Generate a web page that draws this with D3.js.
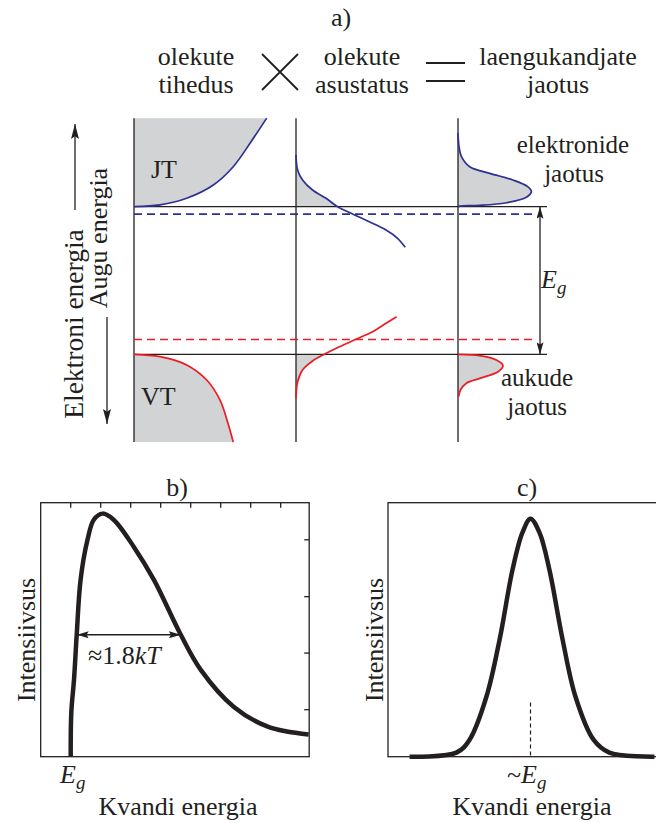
<!DOCTYPE html>
<html lang="et">
<head>
<meta charset="UTF-8">
<title>Laengukandjate jaotus ja luminestsentsi spekter</title>
<script src="https://d3js.org/d3.v7.min.js"></script>
<style>
  body { margin: 0; background: #fff; }
  svg { display: block; }
  text { font-family: "Liberation Serif", "DejaVu Serif", serif; }
  .ax { stroke: #231f20; stroke-width: 1.3px; fill: none; }
  .fill { fill: #d1d3d4; stroke: none; }
  .blue { stroke: #2e3192; fill: none; stroke-width: 1.7px; }
  .red { stroke: #ed1c24; fill: none; stroke-width: 1.7px; }
  .dash { stroke-dasharray: 8 5; }
  .spec { stroke: #231f20; fill: none; stroke-width: 4.5px; }
  .lbl { font-size: 26px; fill: #231f20; }
  .side { font-size: 25px; }
  .math { font-style: italic; }
</style>
</head>
<body>
<script>
// ---------- a) bands, energy units: valence edge = 0, conduction edge = 100
const bandEdges = [0, 100];
const fermiLevels = [95, 10];          // electrons (blue), holes (red)
const energyRange = [-59.5, 160];
const columns = ["tihedus", "asustatus", "jaotus"];

// [value, energy]
const dosCB   = [[0,100],[22.6,101.2],[45.8,105.7],[69,114.7],[86.3,127.1],[100.9,143],[115.4,160]];
const dosVB   = [[0,0],[22.6,-1.6],[45.8,-7.2],[63.2,-17.4],[74.8,-31],[81.7,-46.7],[86.3,-59.5]];
const occN    = [[0,135],[1.4,124.9],[5.7,118.1],[14.4,111.3],[26.1,105.7],[36.2,100],[49.2,95.1],[63.7,89.8],[78.3,84.2],[88.3,78.6],[95,72.5]];
const occP    = [[0,-29.8],[1.4,-18.6],[5.7,-10.6],[14.4,-4.5],[24.6,0],[37.7,5.1],[52.2,10.2],[66.6,15.3],[78.3,21],[87.5,25.5]];
const distN   = [[0,149.9],[0.9,140.7],[3,133.9],[10.2,127.1],[27.6,122.6],[47.6,118.1],[60.6,113.6],[63.8,110.2],[59.5,106.4],[42.1,102.7],[18.9,100.9],[1.5,100.4],[0,100]];
const distP   = [[0,0],[18.9,-0.9],[33.4,-3.9],[39.1,-7.7],[34.8,-11.8],[18.9,-16.3],[7.3,-19.6],[2.1,-24.2],[0.6,-28.7]];

// ---------- b) and c) spectra, [photon energy, intensity]
const specB = [[0,0],[0.02,0.173],[0.11,0.303],[0.2,0.48],[0.33,0.697],[0.56,0.854],[0.77,0.933],[1.06,0.957],[1.43,0.933],[2.1,0.827],[2.77,0.697],[3.67,0.48],[4.33,0.343],[5.43,0.197],[6.57,0.118],[7.93,0.087]];
const specC = [[-4.03,0],[-2.47,0.016],[-2.03,0.067],[-1.47,0.236],[-1.03,0.461],[-0.6,0.736],[-0.27,0.882],[0,0.937],[0.3,0.882],[0.63,0.736],[1.07,0.461],[1.5,0.236],[2.1,0.067],[2.63,0.016],[4.13,0]];
const ticksBx = [0, 1, 2, 3, 4, 5, 6, 7];
const ticksBy = [0.185, 0.408, 0.63, 0.854];
const widthB = [0.2, 3.67, 0.48];      // FWHM arrow: from, to, level
const markC = [0, 0.213];

const W = 656, H = 823;
const svg = d3.select("body").append("svg").attr("width", W).attr("height", H);

const defs = svg.append("defs");
function arrowHead(id, len, wid) {
  defs.append("marker").attr("id", id).attr("viewBox", `0 0 ${len} ${wid}`)
    .attr("refX", len).attr("refY", wid / 2).attr("markerWidth", len).attr("markerHeight", wid)
    .attr("markerUnits", "userSpaceOnUse").attr("orient", "auto-start-reverse")
    .append("path").attr("d", `M0,0 L${len},${wid / 2} L0,${wid} L${len * 0.18},${wid / 2} Z`)
    .attr("fill", "#231f20");
}
arrowHead("head", 12, 7);
arrowHead("bighead", 15, 8);

// ---------- panel a
const yE = d3.scaleLinear().domain([0, 100]).range([354.3, 206.7]);
const colX = d3.scalePoint().domain(columns).range([134, 458]);
const xv = d3.scaleLinear().domain([0, 100]).range([0, 115]);

const curveA = d3.curveCatmullRom.alpha(0.5);
function lineIn(col) {
  return d3.line().x(d => colX(col) + xv(d[0])).y(d => yE(d[1])).curve(curveA);
}
function areaIn(col) {
  return d3.area().y(d => yE(d[1])).x0(colX(col)).x1(d => colX(col) + xv(d[0])).curve(curveA);
}

const a = svg.append("g");

defs.append("clipPath").attr("id", "aboveCB").append("rect")
  .attr("x", 0).attr("y", 0).attr("width", W).attr("height", yE(100));
defs.append("clipPath").attr("id", "belowVB").append("rect")
  .attr("x", 0).attr("y", yE(0)).attr("width", W).attr("height", 200);

// grey fills
a.append("path").attr("class", "fill").attr("d", areaIn("tihedus")(dosCB));
a.append("path").attr("class", "fill").attr("d", areaIn("tihedus")(dosVB));
a.append("path").attr("class", "fill").attr("clip-path", "url(#aboveCB)").attr("d", areaIn("asustatus")(occN));
a.append("path").attr("class", "fill").attr("clip-path", "url(#belowVB)").attr("d", areaIn("asustatus")(occP));
a.append("path").attr("class", "fill").attr("d", areaIn("jaotus")(distN));
a.append("path").attr("class", "fill").attr("d", areaIn("jaotus")(distP));

// column axes
a.selectAll(".col").data(columns).join("line").attr("class", "ax")
  .attr("x1", d => colX(d)).attr("x2", d => colX(d))
  .attr("y1", yE(energyRange[1])).attr("y2", yE(energyRange[0]));

// band edges
a.selectAll(".edge").data(bandEdges).join("line").attr("class", "ax")
  .attr("x1", colX("tihedus")).attr("x2", 547)
  .attr("y1", d => yE(d)).attr("y2", d => yE(d));

// quasi-Fermi levels
a.selectAll(".qf").data(fermiLevels).join("line")
  .attr("class", (d, i) => (i === 0 ? "blue" : "red") + " dash")
  .style("stroke-width", "1.6px")
  .attr("x1", colX("tihedus")).attr("x2", 533)
  .attr("y1", d => yE(d)).attr("y2", d => yE(d));

// curves
a.append("path").attr("class", "blue").attr("d", lineIn("tihedus")(dosCB));
a.append("path").attr("class", "red").attr("d", lineIn("tihedus")(dosVB));
a.append("path").attr("class", "blue").attr("d", lineIn("asustatus")(occN));
a.append("path").attr("class", "red").attr("d", lineIn("asustatus")(occP));
a.append("path").attr("class", "blue").attr("d", lineIn("jaotus")(distN));
a.append("path").attr("class", "red").attr("d", lineIn("jaotus")(distP));

// band gap arrow
a.append("line").attr("class", "ax")
  .attr("x1", 540).attr("x2", 540).attr("y1", yE(bandEdges[1])).attr("y2", yE(bandEdges[0]))
  .attr("marker-start", "url(#head)").attr("marker-end", "url(#head)");

const eg = a.append("text").attr("class", "lbl math").attr("x", 541).attr("y", 288);
eg.append("tspan").text("E");
eg.append("tspan").attr("dy", 6).style("font-size", "19px").text("g");

a.append("text").attr("class", "lbl").attr("x", 151).attr("y", 178).text("JT");
a.append("text").attr("class", "lbl").attr("x", 141).attr("y", 405).text("VT");
a.append("text").attr("class", "lbl side").attr("x", 573).attr("y", 153).attr("text-anchor", "middle").text("elektronide");
a.append("text").attr("class", "lbl side").attr("x", 574).attr("y", 182).attr("text-anchor", "middle").text("jaotus");
a.append("text").attr("class", "lbl side").attr("x", 537).attr("y", 386).attr("text-anchor", "middle").text("aukude");
a.append("text").attr("class", "lbl side").attr("x", 537).attr("y", 415).attr("text-anchor", "middle").text("jaotus");

// energy direction labels
a.append("line").attr("class", "ax").attr("x1", 75).attr("x2", 75).attr("y1", 210).attr("y2", 124)
  .attr("marker-end", "url(#bighead)");
a.append("line").attr("class", "ax").attr("x1", 107).attr("x2", 107).attr("y1", 317).attr("y2", 424)
  .attr("marker-end", "url(#bighead)");
a.append("text").attr("class", "lbl").style("font-size", "27.5px").attr("text-anchor", "middle")
  .attr("transform", "translate(83,324) rotate(-90)").text("Elektroni energia");
a.append("text").attr("class", "lbl").attr("text-anchor", "middle")
  .attr("transform", "translate(107,238) rotate(-90)").text("Augu energia");

// header
const head = svg.append("g").attr("class", "lbl").attr("text-anchor", "middle");
head.append("text").attr("x", 341).attr("y", 26).text("a)");
[["olekute", "tihedus", 196], ["olekute", "asustatus", 362], ["laengukandjate", "jaotus", 558]]
  .forEach(([l1, l2, x]) => {
    head.append("text").attr("x", x).attr("y", 65).text(l1);
    head.append("text").attr("x", x).attr("y", 93).text(l2);
  });
head.append("path").attr("d", "M262,54 L298,90 M262,90 L298,54")
  .attr("stroke", "#231f20").attr("stroke-width", 1.8).attr("fill", "none");
head.append("path").attr("d", "M426,63 H465 M426,81 H465")
  .attr("stroke", "#231f20").attr("stroke-width", 2.2).attr("fill", "none");

// ---------- panel b
const plotTop = 502.7, plotBottom = 756.7;
const xB = d3.scaleLinear().domain([-1, 7.95]).range([40.7, 309.2]);
const yI = d3.scaleLinear().domain([0, 1]).range([plotBottom, plotTop]);
const b = svg.append("g");
b.append("rect").attr("class", "ax").attr("x", xB(-1)).attr("y", plotTop)
  .attr("width", xB(7.95) - xB(-1)).attr("height", plotBottom - plotTop);
b.selectAll(".tx").data(ticksBx).join("line").attr("class", "ax")
  .attr("x1", d => xB(d)).attr("x2", d => xB(d)).attr("y1", plotTop).attr("y2", plotTop + 5);
b.selectAll(".ty").data(ticksBy).join("line").attr("class", "ax")
  .attr("x1", xB(7.95)).attr("x2", xB(7.95) - 5).attr("y1", d => yI(d)).attr("y2", d => yI(d));
b.append("path").attr("class", "spec")
  .attr("d", d3.line().x(d => xB(d[0])).y(d => yI(d[1])).curve(d3.curveCatmullRom.alpha(0.5))(specB));
b.append("line").attr("class", "ax").style("stroke-width", "1.6px")
  .attr("x1", xB(widthB[0])).attr("x2", xB(widthB[1]))
  .attr("y1", yI(widthB[2])).attr("y2", yI(widthB[2]))
  .attr("marker-start", "url(#head)").attr("marker-end", "url(#head)");
const fw = b.append("text").attr("class", "lbl").attr("x", 88).attr("y", 664);
fw.append("tspan").text("≈1.8");
fw.append("tspan").attr("class", "math").text("kT");
b.append("text").attr("class", "lbl").attr("x", 177).attr("y", 496).attr("text-anchor", "middle").text("b)");
const egb = b.append("text").attr("class", "lbl math").attr("x", 60).attr("y", 783);
egb.append("tspan").text("E");
egb.append("tspan").attr("dy", 6).style("font-size", "19px").text("g");
b.append("text").attr("class", "lbl").attr("x", 178).attr("y", 815).attr("text-anchor", "middle").text("Kvandi energia");
b.append("text").attr("class", "lbl").attr("text-anchor", "middle")
  .attr("transform", "translate(35,640) rotate(-90)").text("Intensiivsus");

// ---------- panel c
const xC = d3.scaleLinear().domain([-4.75, 4.2]).range([388, 656.5]);
const c = svg.append("g");
c.append("rect").attr("class", "ax").attr("x", xC(-4.75)).attr("y", plotTop)
  .attr("width", 280).attr("height", plotBottom - plotTop);
c.append("line").attr("class", "ax").style("stroke-width", "1.2px").attr("stroke-dasharray", "4 3")
  .attr("x1", xC(0)).attr("x2", xC(0)).attr("y1", yI(markC[1])).attr("y2", yI(markC[0]));
c.append("path").attr("class", "spec")
  .attr("d", d3.line().x(d => xC(d[0])).y(d => yI(d[1])).curve(d3.curveCatmullRom.alpha(0.5))(specC));
c.append("text").attr("class", "lbl").attr("x", 527).attr("y", 496).attr("text-anchor", "middle").text("c)");
const egc = c.append("text").attr("class", "lbl").attr("x", 507).attr("y", 783);
egc.append("tspan").text("~");
egc.append("tspan").attr("class", "math").text("E");
egc.append("tspan").attr("class", "math").attr("dy", 6).style("font-size", "19px").text("g");
c.append("text").attr("class", "lbl").attr("x", 532).attr("y", 815).attr("text-anchor", "middle").text("Kvandi energia");
c.append("text").attr("class", "lbl").attr("text-anchor", "middle")
  .attr("transform", "translate(383,640) rotate(-90)").text("Intensiivsus");
</script>
</body>
</html>
